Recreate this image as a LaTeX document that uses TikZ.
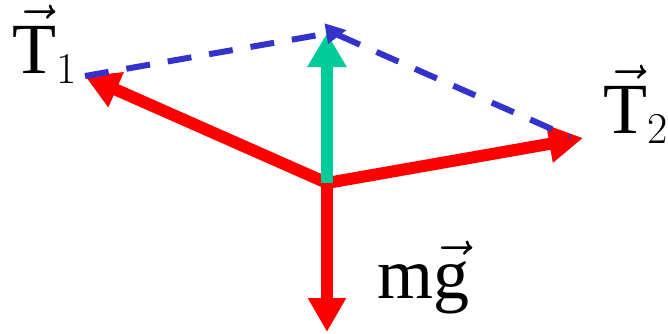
\RequirePackage{fix-cm}
\documentclass[tikz,border=0pt]{standalone}
\usepackage{fontspec}
\setmainfont{Liberation Serif}
\DeclareMathSizes{72}{72}{44}{36}
\usepackage{xcolor}
\usepackage{tikz}
\usetikzlibrary{positioning, arrows.meta, calc}
\definecolor{forcered}{HTML}{FF0000}
\definecolor{sumgreen}{HTML}{00CC99}
\definecolor{dashblue}{HTML}{3333CC}

\begin{document}
\begin{tikzpicture}[x=1pt, y=-1pt,
    force/.style={draw=forcered, line width=12pt,
                  -{Triangle[length=34pt, width=36pt]}},
    sumarrow/.style={draw=sumgreen, line width=12pt,
                  -{Triangle[length=34pt, width=37pt]}},
    helper/.style={draw=dashblue, line width=6pt, dash pattern=on 24pt off 18pt},
    label/.style={anchor=base west, inner sep=0pt,
                  font=\fontsize{72}{72}\selectfont}]
  \useasboundingbox (0,0) rectangle (668,333);
  % points of the force diagram
  \coordinate (origin) at (327,183);
  \coordinate (tensA) at (85,76);
  \coordinate (tensB) at (583,138);
  \coordinate (weight) at (327,332);
  \coordinate (resultant) at (327,33);
  \coordinate (corner) at (347,30);
  \coordinate (cornerB) at (338,35);
  \coordinate (tensBend) at (570,137);
  % forces
  \draw[force] (origin) -- (tensA);
  \draw[force] (origin) -- (tensB);
  \draw[force] (origin) -- (weight);
  \draw[sumarrow] (origin) -- (resultant);
  % parallelogram
  \draw[helper, -{Triangle[length=21pt, width=19pt]}] (tensA) -- (corner);
  \draw[helper] (cornerB) -- (tensBend);
  % labels
  \node[label] (labelA) at (12,73) {$\vec{\mathrm{T}}_1$};
  \node[label] (labelB) at (603,133) {$\vec{\mathrm{T}}_2$};
  \node[label] (labelW) at (377,298) {$\mathrm{m}\vec{\mathrm{g}}$};
\end{tikzpicture}
\end{document}
